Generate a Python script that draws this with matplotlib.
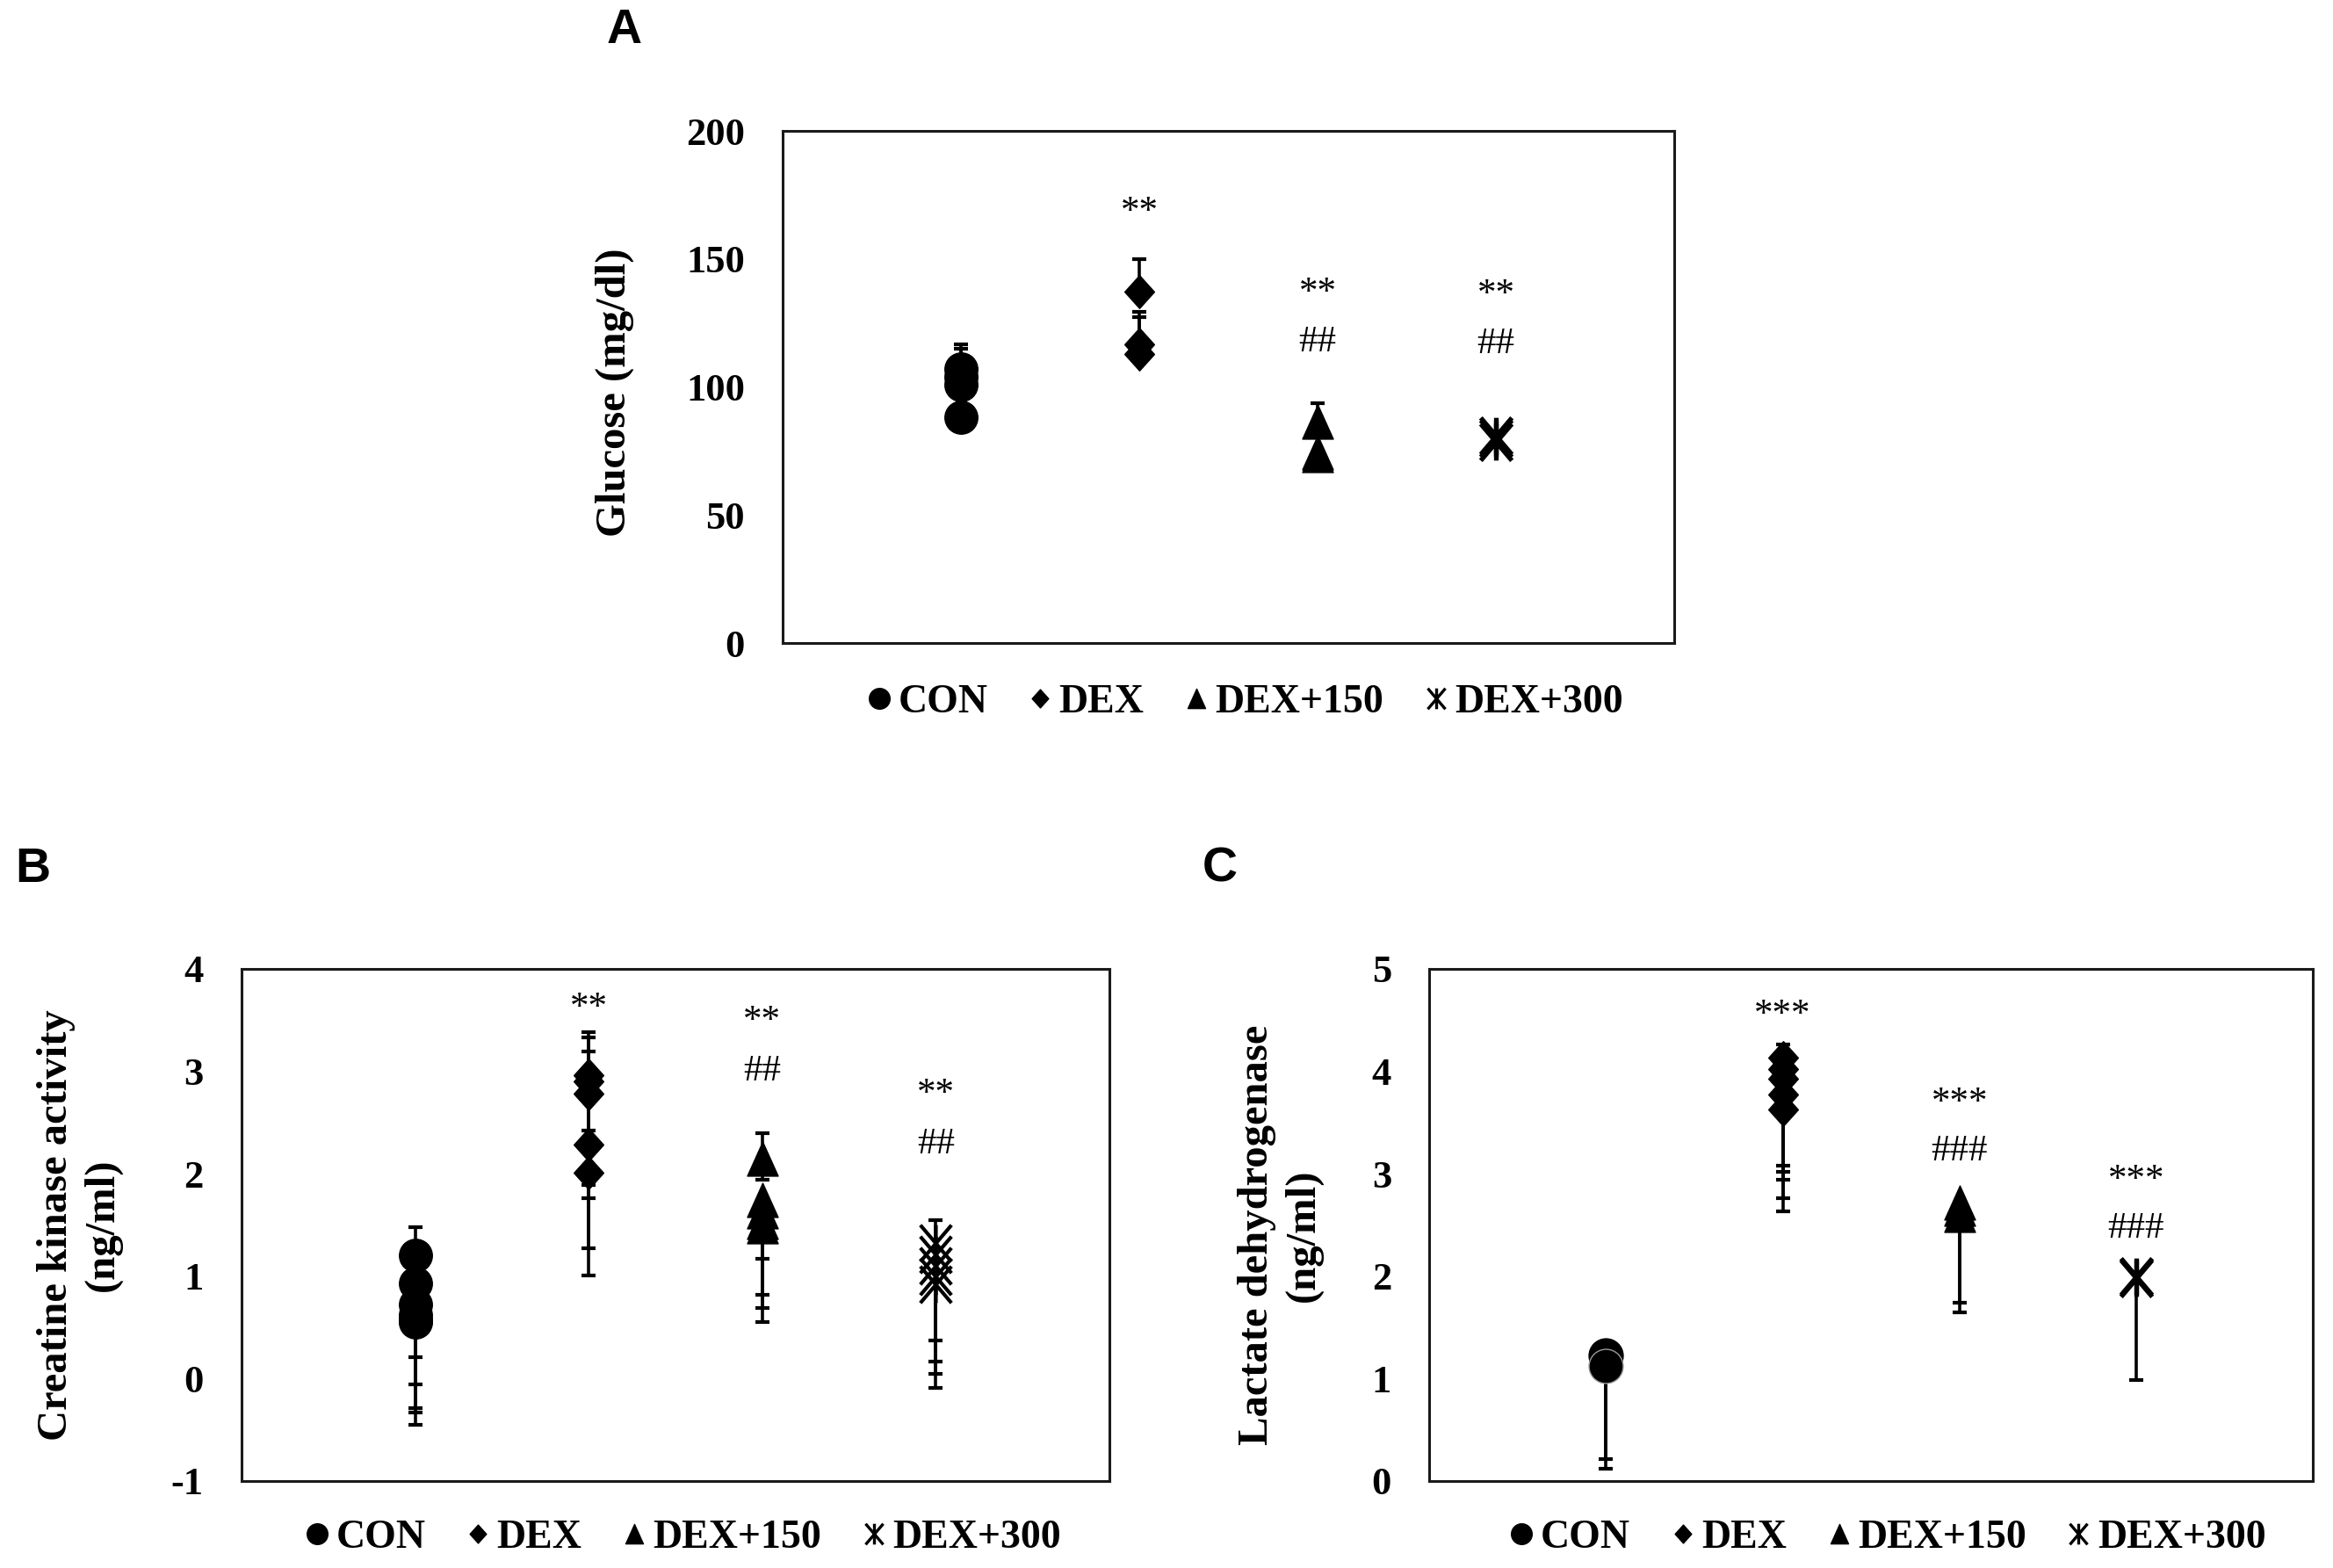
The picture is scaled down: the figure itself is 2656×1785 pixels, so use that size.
import numpy as np
import matplotlib
matplotlib.use("Agg")
import matplotlib.pyplot as plt
from matplotlib.path import Path
from matplotlib.lines import Line2D
from matplotlib.font_manager import FontProperties

# ---------------- data ----------------
groups = ["CON", "DEX", "DEX+150", "DEX+300"]
group_x = [1, 2, 3, 4]

# Panel A: Glucose (mg/dl)
a_con = [107.0, 103.8, 101.0, 88.1]
a_con_lo = [0, 0, 0, 0]
a_con_hi = [9.6, 11.3, 0, 0]
a_dex = [137.2, 116.6, 113.0]
a_dex_lo = [0, 0, 0]
a_dex_hi = [12.8, 12.8, 14.2]
a_d150 = [86.4, 74.5, 73.5]
a_d150_lo = [0, 0, 0]
a_d150_hi = [7.4, 0, 0]
a_d300 = [81.0, 79.8, 78.6]
a_d300_lo = [0, 0, 0]
a_d300_hi = [0, 0, 0]
a_sig = [("**", 2, 171.6), ("**", 3, 140.0), ("##", 3, 118.7), ("**", 4, 139.3), ("##", 4, 118.3)]

# Panel B: Creatine kinase activity (ng/ml)
b_con = [1.20, 0.93, 0.72, 0.62, 0.57, 0.55]
b_con_lo = [0, 0.72, 0.775, 0.91, 0.90, 1.00]
b_con_hi = [0.28, 0, 0, 0, 0, 0]
b_dex = [2.96, 2.90, 2.78, 2.28, 2.01]
b_dex_lo = [0, 1.63, 1.02, 0.39, 1.00]
b_dex_hi = [0.42, 0.43, 0.41, 0.14, 0]
b_d150 = [2.15, 1.74, 1.63, 1.53, 1.49]
b_d150_lo = [0.21, 0.57, 0.81, 0.84, 0.94]
b_d150_hi = [0.25, 0, 0, 0, 0]
b_d300 = [1.32, 1.21, 1.10, 1.00, 0.92]
b_d300_lo = [0, 0.84, 0.935, 0.95, 1.01]
b_d300_hi = [0.23, 0, 0, 0, 0]
b_sig = [("**", 2, 3.70), ("**", 3, 3.57), ("##", 3, 3.03), ("**", 4, 2.86), ("##", 4, 2.32)]

# Panel C: Lactate dehydrogenase (ng/ml)
c_con = [1.23, 1.12]
c_con_lo = [1.02, 1.00]
c_con_hi = [0, 0]
c_dex = [4.13, 4.02, 3.93, 3.77, 3.63]
c_dex_lo = [1.05, 1.00, 0.99, 1.01, 1.00]
c_dex_hi = [0.13, 0, 0, 0, 0]
c_d150 = [2.72, 2.66, 2.60]
c_d150_lo = [0, 0.92, 0.95]
c_d150_hi = [0, 0, 0]
c_d300 = [2.00, 1.98]
c_d300_lo = [0, 0.99]
c_d300_hi = [0, 0]
c_sig = [("***", 2, 4.63), ("***", 3, 3.77), ("###", 3, 3.25), ("***", 4, 3.02), ("###", 4, 2.50)]

# ---------------- markers ----------------
M, L = Path.MOVETO, Path.LINETO
circle_m = Path.unit_circle()
diamond_m = Path([(0, 1), (0.9, 0), (0, -1), (-0.9, 0), (0, 1)], closed=True)
triangle_m = Path([(0, 1), (-0.9, -1), (0.9, -1), (0, 1)], closed=True)
star_m = Path([(0, -1), (0, 1), (-0.85, -1), (0.85, 1), (-0.85, 1), (0.85, -1)],
              [M, L, M, L, M, L])

serif = "Liberation Serif"
sans = "Liberation Sans"
TICK_FS = 32
LAB_FS = 35
LEG_FS = 33
SIG_FS = 31

fig = plt.figure(figsize=(26.56, 17.85), dpi=100)
fig.patch.set_facecolor("white")

CAP = 12
ELW = 2.6


def draw_group(ax, x, vals, lo, hi, marker, ms, filled=True, mew=3.8, mec="black"):
    vals = np.asarray(vals, float)
    lo = np.asarray(lo, float)
    hi = np.asarray(hi, float)
    xs = np.full(len(vals), x, float)
    ax.errorbar(xs, vals, yerr=[lo, hi], fmt="none", ecolor="black",
                elinewidth=ELW, capsize=0, zorder=2)
    m_lo = lo > 0
    m_hi = hi > 0
    ax.plot(xs[m_lo], (vals - lo)[m_lo], ls="none", marker="_", ms=CAP,
            mew=ELW + 0.4, color="black", zorder=2)
    ax.plot(xs[m_hi], (vals + hi)[m_hi], ls="none", marker="_", ms=CAP,
            mew=ELW + 0.4, color="black", zorder=2)
    if filled:
        ax.plot(xs, vals, ls="none", marker=marker, ms=ms, mfc="black",
                mec=mec, mew=1.0, zorder=3)
    else:
        ax.plot(xs, vals, ls="none", marker=marker, ms=ms, mfc="none",
                mec="black", mew=mew, zorder=3)


def style_axes(ax, ylim, yticks, ylabel, label_x, label_y):
    ax.set_xlim(0, 5)
    ax.set_ylim(*ylim)
    ax.set_xticks([])
    ax.set_yticks(yticks)
    ax.set_yticklabels([str(t) for t in yticks], fontfamily=serif,
                       fontweight="bold", fontsize=TICK_FS)
    ax.tick_params(axis="y", length=0, pad=31)
    for s in ax.spines.values():
        s.set_linewidth(2.2)
        s.set_color("#1a1a1a")
    ax.set_ylabel(ylabel, fontfamily=serif, fontweight="bold", fontsize=LAB_FS,
                  ha="center", va="center", linespacing=1.25)
    ax.yaxis.set_label_coords(label_x, label_y)


def add_sig(ax, items):
    for txt, x, y in items:
        dy = -7 if txt.startswith("*") else -3
        ax.annotate(txt, (x, y), xytext=(0, dy), textcoords="offset points",
                    ha="center", va="center", fontfamily=serif,
                    fontsize=SIG_FS, color="black")


def add_legend(ax, xoff, yoff):
    handles = [
        Line2D([], [], ls="none", marker=circle_m, ms=17, mfc="black", mec="black"),
        Line2D([], [], ls="none", marker=diamond_m, ms=15, mfc="black", mec="black"),
        Line2D([], [], ls="none", marker=triangle_m, ms=16, mfc="black", mec="black"),
        Line2D([], [], ls="none", marker=star_m, ms=17, mfc="none", mec="black", mew=2.4),
    ]
    ax.legend(handles, groups, loc="center", bbox_to_anchor=(xoff, yoff), ncol=4,
              frameon=False, handlelength=0.5, handletextpad=0.22,
              columnspacing=1.05, borderaxespad=0,
              prop=FontProperties(family=serif, weight="bold", size=LEG_FS))


# ---------------- Panel A ----------------
axA = fig.add_axes([0.3355, 0.5899, 0.3821, 0.3266])
draw_group(axA, group_x[0], a_con, a_con_lo, a_con_hi, circle_m, 27)
draw_group(axA, group_x[1], a_dex, a_dex_lo, a_dex_hi, diamond_m, 27)
draw_group(axA, group_x[2], a_d150, a_d150_lo, a_d150_hi, triangle_m, 28)
draw_group(axA, group_x[3], a_d300, a_d300_lo, a_d300_hi, star_m, 30, filled=False)
style_axes(axA, (0, 200), [0, 50, 100, 150, 200], "Glucose (mg/dl)", -0.188, 0.49)
add_sig(axA, a_sig)
add_legend(axA, 0.52, -0.117)

# ---------------- Panel B ----------------
axB = fig.add_axes([0.1035, 0.0555, 0.3720, 0.3266])
draw_group(axB, group_x[0], b_con, b_con_lo, b_con_hi, circle_m, 27)
draw_group(axB, group_x[1], b_dex, b_dex_lo, b_dex_hi, diamond_m, 27)
draw_group(axB, group_x[2], b_d150, b_d150_lo, b_d150_hi, triangle_m, 28)
draw_group(axB, group_x[3], b_d300, b_d300_lo, b_d300_hi, star_m, 30, filled=False, mew=3.0)
style_axes(axB, (-1, 4), [-1, 0, 1, 2, 3, 4],
           "Creatine kinase activity\n(ng/ml)", -0.187, 0.5)
add_sig(axB, b_sig)
add_legend(axB, 0.51, -0.112)

# ---------------- Panel C ----------------
axC = fig.add_axes([0.6126, 0.0555, 0.3788, 0.3266])
draw_group(axC, group_x[0], c_con[:1], c_con_lo[:1], c_con_hi[:1], circle_m, 28)
draw_group(axC, group_x[0], c_con[1:], c_con_lo[1:], c_con_hi[1:], circle_m, 28, mec="#9a9a9a")
draw_group(axC, group_x[1], c_dex, c_dex_lo, c_dex_hi, diamond_m, 27)
draw_group(axC, group_x[2], c_d150, c_d150_lo, c_d150_hi, triangle_m, 28)
draw_group(axC, group_x[3], c_d300, c_d300_lo, c_d300_hi, star_m, 30, filled=False)
style_axes(axC, (0, 5), [0, 1, 2, 3, 4, 5],
           "Lactate dehydrogenase\n(ng/ml)", -0.169, 0.48)
add_sig(axC, c_sig)
add_legend(axC, 0.52, -0.112)

# ---------------- panel letters ----------------
for letter, fx, fy in [("A", 0.2677, 0.9804), ("B", 0.0139, 0.4454), ("C", 0.5230, 0.4454)]:
    fig.text(fx, fy, letter, ha="center", va="center", fontfamily=sans,
             fontweight="bold", fontsize=40)

fig.savefig("out.png", dpi=100, facecolor="white")
